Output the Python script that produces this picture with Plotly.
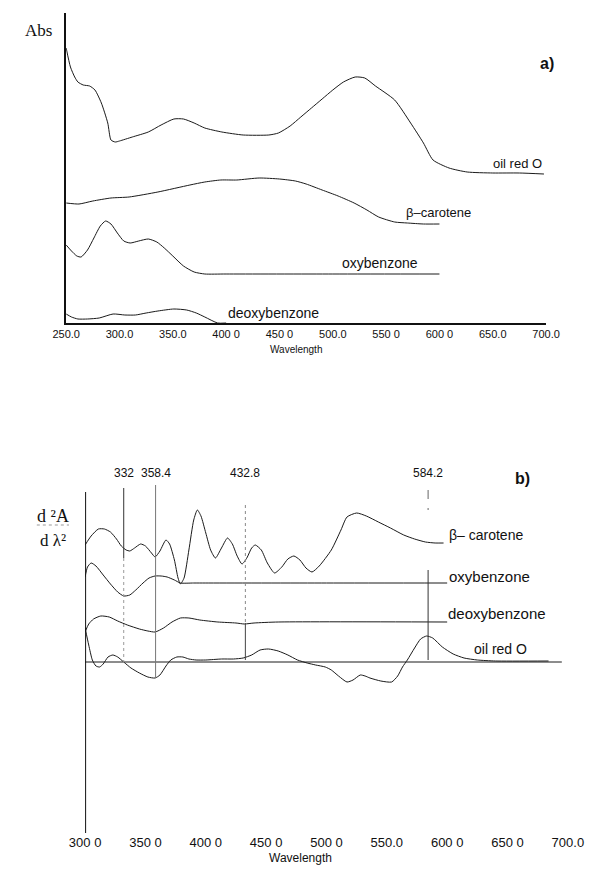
import plotly.graph_objects as go

W, H = 599, 874

def px(x):
    return x / W

def py(y):
    return 1 - y / H

# ---------------- Panel a: absorbance spectra (stacked, arbitrary units) -------------
a_ticks = [250, 300, 350, 400, 450, 500, 550, 600, 650, 700]
a_ticktext = ["250.0", "300.0", "350.0", "400 0", "450 0", "500.0", "550 0", "600 0", "650.0", "700.0"]

a_oil_wl = [250, 254, 258, 261, 266, 272, 277, 283, 289, 292, 296, 300, 312, 327, 339, 351, 360, 370,
            380, 396, 416, 440, 449, 460, 470, 480, 490, 500, 510, 521, 530, 540, 558, 573, 585, 594,
            609, 626, 650, 675, 698]
a_oil_abs = [2.75, 2.56, 2.46, 2.41, 2.38, 2.37, 2.33, 2.20, 2.00, 1.83, 1.81, 1.82, 1.86, 1.91, 1.98,
             2.04, 2.04, 2.00, 1.95, 1.91, 1.88, 1.88, 1.90, 1.97, 2.06, 2.15, 2.24, 2.33, 2.41, 2.46,
             2.45, 2.37, 2.23, 2.00, 1.80, 1.63, 1.55, 1.51, 1.50, 1.50, 1.49]

a_car_wl = [250, 262, 275, 292, 309, 336, 366, 380, 395, 410, 431, 450, 465, 475, 490, 505, 520, 532,
            543, 558, 570, 585, 600]
a_car_abs = [1.20, 1.19, 1.22, 1.25, 1.26, 1.31, 1.38, 1.41, 1.43, 1.43, 1.45, 1.44, 1.42, 1.39, 1.33,
             1.27, 1.20, 1.13, 1.06, 1.01, 1.00, 0.99, 0.99]

a_oxy_wl = [250, 255, 260, 264, 270, 276, 282, 287, 292, 298, 304, 310, 318, 327, 335, 342, 350, 360,
            370, 380, 400, 500, 600]
a_oxy_abs = [0.78, 0.72, 0.67, 0.66, 0.73, 0.85, 0.97, 1.02, 0.99, 0.90, 0.82, 0.80, 0.82, 0.84, 0.81,
             0.75, 0.67, 0.57, 0.51, 0.49, 0.49, 0.49, 0.49]

a_deoxy_wl = [250, 255, 261, 270, 281, 294, 305, 315, 325, 336, 351, 363, 372, 380, 392, 400]
a_deoxy_abs = [0.09, 0.06, 0.04, 0.04, 0.05, 0.09, 0.08, 0.08, 0.10, 0.12, 0.14, 0.13, 0.10, 0.06,
               0.00, 0.00]

# ---------------- Panel b: second derivative spectra (stacked) ----------------------
b_ticks = [300, 350, 400, 450, 500, 550, 600, 650, 700]
b_ticktext = ["300 0", "350 0", "400 0", "450 0", "500 0", "550.0", "600 0", "650 0", "700.0"]

b_car_wl = [300, 305, 311, 316, 321, 326, 330, 334, 337, 341, 346, 350, 355, 358, 362, 367, 370, 374,
            377, 379, 382, 386, 390, 393, 396, 400, 404, 408, 413, 418, 422, 426, 430, 434, 438, 441,
            446, 451, 457, 463, 468, 473, 478, 483, 488, 494, 504, 512, 517, 525, 533, 543, 553, 564,
            573, 582, 590, 597]
b_car_d2 = [1.17, 1.26, 1.33, 1.33, 1.30, 1.23, 1.16, 1.12, 1.11, 1.14, 1.18, 1.16, 1.09, 1.05, 1.11,
            1.22, 1.18, 1.02, 0.84, 0.78, 0.84, 1.12, 1.42, 1.52, 1.46, 1.29, 1.12, 1.04, 1.14, 1.24,
            1.18, 1.06, 0.98, 1.04, 1.14, 1.17, 1.12, 0.99, 0.89, 0.95, 1.03, 1.06, 1.02, 0.94, 0.90,
            0.96, 1.12, 1.32, 1.45, 1.49, 1.46, 1.40, 1.34, 1.27, 1.23, 1.20, 1.19, 1.19]

b_oxy_wl = [300, 302, 305, 309, 315, 321, 327, 332, 337, 342, 348, 353, 358, 363, 368, 374, 379, 390,
            400, 500, 600]
b_oxy_d2 = [0.85, 0.95, 0.99, 0.96, 0.87, 0.78, 0.70, 0.66, 0.67, 0.72, 0.79, 0.84, 0.86, 0.86, 0.85,
            0.82, 0.79, 0.79, 0.79, 0.79, 0.79]

b_deoxy_wl = [300, 303, 307, 313, 320, 327, 335, 345, 352, 358, 365, 372, 379, 386, 395, 410, 425, 432,
              440, 460, 600]
b_deoxy_d2 = [0.30, 0.38, 0.43, 0.46, 0.45, 0.41, 0.37, 0.33, 0.31, 0.30, 0.34, 0.40, 0.44, 0.44, 0.42,
              0.40, 0.39, 0.38, 0.39, 0.40, 0.40]

b_oil_wl = [300, 303, 306, 309, 312, 315, 319, 323, 327, 332, 338, 345, 352, 358, 362, 367, 371, 376,
            381, 386, 392, 400, 413, 423, 431, 438, 445, 452, 460, 468, 476, 484, 491, 499, 504, 510,
            517, 522, 528, 532, 536, 545, 554, 559, 563, 567, 573, 578, 583, 588, 596, 605, 614, 625,
            640, 684]
b_oil_d2 = [0.34, 0.17, 0.02, -0.04, -0.05, -0.02, 0.05, 0.07, 0.05, 0.00, -0.06, -0.11, -0.15, -0.16,
            -0.13, -0.04, 0.02, 0.05, 0.05, 0.03, 0.02, 0.02, 0.03, 0.03, 0.04, 0.07, 0.12, 0.13, 0.11,
            0.07, 0.02, -0.01, -0.03, -0.05, -0.08, -0.14, -0.20, -0.18, -0.13, -0.14, -0.16, -0.19,
            -0.20, -0.14, -0.05, 0.02, 0.14, 0.23, 0.26, 0.24, 0.15, 0.08, 0.04, 0.02, 0.01, 0.01]

peak_wl = [332, 358.4, 432.8, 584.2]
peak_labels = ["332", "358.4", "432.8", "584.2"]

# ------------------------------------------------------------------------------------
LINE = dict(color="#1a1a1a", width=1)
fig = go.Figure()

for xs, ys in [(a_oil_wl, a_oil_abs), (a_car_wl, a_car_abs), (a_oxy_wl, a_oxy_abs),
               (a_deoxy_wl, a_deoxy_abs)]:
    fig.add_trace(go.Scatter(x=xs, y=ys, mode="lines", line=dict(LINE, shape="spline", smoothing=0.6),
                             xaxis="x", yaxis="y", showlegend=False, hoverinfo="skip"))

for xs, ys in [(b_car_wl, b_car_d2), (b_oxy_wl, b_oxy_d2), (b_deoxy_wl, b_deoxy_d2),
               (b_oil_wl, b_oil_d2)]:
    fig.add_trace(go.Scatter(x=xs, y=ys, mode="lines", line=dict(LINE, shape="spline", smoothing=0.6),
                             xaxis="x2", yaxis="y2", showlegend=False, hoverinfo="skip"))

shapes = []
# panel b zero line and y axis
shapes.append(dict(type="line", xref="x2", yref="y2", x0=300, x1=695, y0=0, y1=0,
                   line=dict(color="#1a1a1a", width=1)))
shapes.append(dict(type="line", xref="x2", yref="y2", x0=300, x1=300, y0=-1.71, y1=1.70,
                   line=dict(color="#111", width=2)))
# peak marker lines (solid / dotted segments)
marker_segments = [
    (peak_wl[0], 1.74, 1.04, "solid", "#333"),
    (peak_wl[0], 1.04, -0.03, "dot", "#999"),
    (peak_wl[1], 1.77, -0.16, "solid", "#777"),
    (peak_wl[2], 1.57, 0.39, "dot", "#888"),
    (peak_wl[2], 0.39, 0.02, "solid", "#444"),
    (peak_wl[3], 1.72, 1.52, "dash", "#666"),
    (peak_wl[3], 0.92, 0.02, "solid", "#333"),
]
for x, y0, y1, dash, col in marker_segments:
    shapes.append(dict(type="line", xref="x2", yref="y2", x0=x, x1=x, y0=y0, y1=y1,
                       line=dict(color=col, width=1, dash=dash)))

ann = []
SANS = "Liberation Sans, Arial, sans-serif"
SERIF = "Liberation Serif, Times New Roman, serif"

def text(x, y, s, size=13, font=SANS, bold=False):
    f = dict(family=font, size=size, color="#111")
    if bold:
        f["weight"] = "bold"
    ann.append(dict(x=px(x), y=py(y), xref="paper", yref="paper", text=s,
                    showarrow=False, xanchor="center", yanchor="middle", font=f))

# panel a labels
text(24, 30, "Abs", size=17, font=SERIF)
text(561, 63, "a)", size=16, bold=True)
text(530, 163, "oil red O", size=13)
text(446, 212, "β–carotene", size=13)
text(385, 263, "oxybenzone", size=14)
text(272, 313, "deoxybenzone", size=14)
text(296, 350, "Wavelength", size=10)

# panel b labels
for wl, lab in zip(peak_wl, peak_labels):
    text(73 + (wl - 300) * 1.275, 473, lab, size=12)
text(535, 478, "b)", size=16, bold=True)
text(497, 535, "β– carotene", size=14)
text(500, 576, "oxybenzone", size=15)
text(508, 613, "deoxybenzone", size=15)
text(512, 649, "oil red O", size=14)
text(301, 858, "Wavelength", size=12)
text(39, 516, "d ²A", size=18, font=SERIF)
text(39, 540, "d λ²", size=17, font=SERIF)
shapes.append(dict(type="line", xref="paper", yref="paper", x0=px(22), x1=px(56), y0=py(525), y1=py(525),
                   line=dict(color="#999", width=1, dash="dot")))

fig.update_layout(
    width=W, height=H,
    margin=dict(l=0, r=0, t=0, b=0),
    paper_bgcolor="white", plot_bgcolor="white",
    shapes=shapes, annotations=ann,
    xaxis=dict(domain=[px(53), px(560)], range=[250, 700], anchor="y",
               tickvals=a_ticks, ticktext=a_ticktext, showgrid=False, zeroline=False,
               showline=True, linecolor="#111", linewidth=2, ticks="",
               tickfont=dict(family=SANS, size=11, color="#111")),
    yaxis=dict(domain=[py(323), py(13)], range=[0, 3.10], anchor="x",
               showticklabels=False, showgrid=False, zeroline=False,
               showline=True, linecolor="#111", linewidth=2, ticks=""),
    xaxis2=dict(domain=[px(73), px(583)], range=[300, 700], anchor="y2",
                tickvals=b_ticks, ticktext=b_ticktext, showgrid=False, zeroline=False,
                showline=False, ticks="",
                tickfont=dict(family=SANS, size=13, color="#111")),
    yaxis2=dict(domain=[py(833), py(470)], range=[-1.71, 1.92], anchor="x2",
                showticklabels=False, showgrid=False, zeroline=False, showline=False, ticks=""),
)

fig.write_html("out.html", config={"displayModeBar": False},
               post_script="document.body.style.margin='0';")
